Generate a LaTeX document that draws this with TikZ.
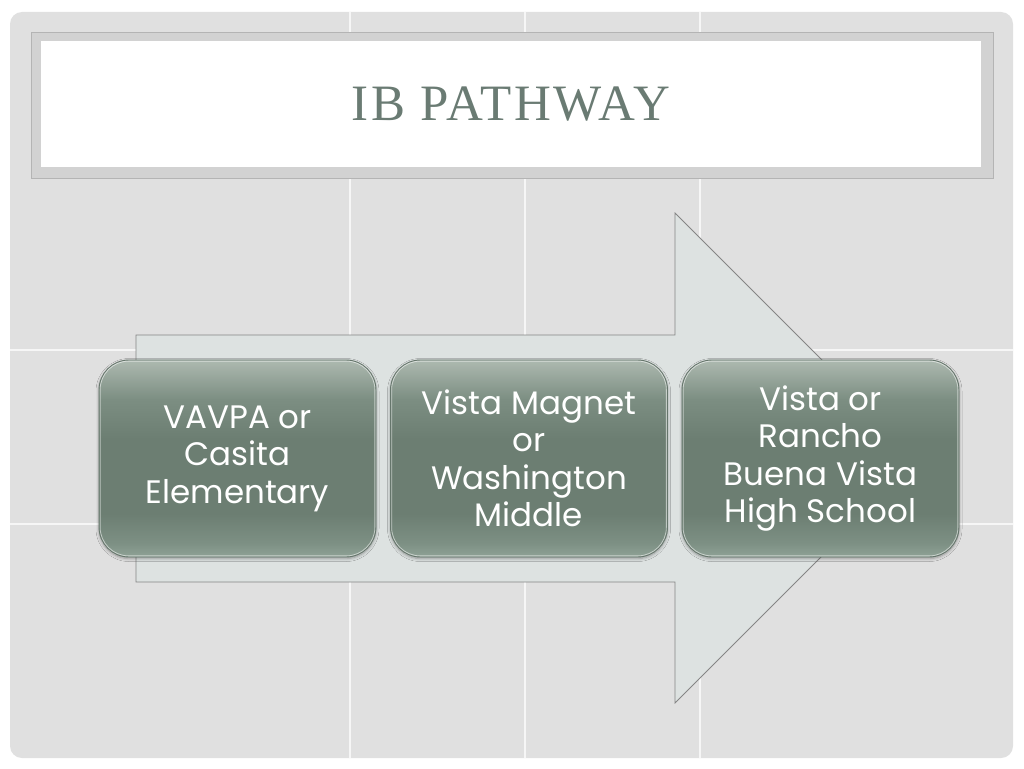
\documentclass[tikz,border=0pt]{standalone}
\usepackage{fontspec}
\setmainfont{Liberation Serif}
\newfontfamily\boxfont{Poppins}
\newfontfamily\titlefont[LetterSpace=5]{Liberation Serif}
\usetikzlibrary{shadows.blur}
\definecolor{bg}{HTML}{E0E0E0}
\definecolor{gridline}{HTML}{F6F6F6}
\definecolor{titleframe}{HTML}{D2D2D2}
\definecolor{titleedge}{HTML}{B4B4B4}
\definecolor{titletext}{HTML}{6A7B73}
\definecolor{arrowfill}{HTML}{DDE2E1}
\definecolor{arrowedge}{HTML}{858585}
\definecolor{boxline}{HTML}{66766C}
\definecolor{sbA}{HTML}{8FA296}
\definecolor{sbB}{HTML}{7D9084}
\definecolor{sbC}{HTML}{6C7E72}
\definecolor{sbD}{HTML}{7C8E82}
\definecolor{sbE}{HTML}{ADB9B0}
\pgfdeclareverticalshading{boxshade}{100bp}{color(0bp)=(sbA); color(25bp)=(sbA); color(28.5bp)=(sbB); color(36bp)=(sbC); color(55bp)=(sbC); color(65bp)=(sbD); color(75bp)=(sbE); color(100bp)=(sbE)}
\tikzset{
  stepbox/.style={shape=rectangle, rounded corners=30pt, minimum width=277pt,
    minimum height=197pt, inner sep=0pt, shading=boxshade, draw=boxline,
    line width=0.9pt, text=white, align=center,
    font=\boxfont\fontsize{32.5}{37.5}\selectfont,
    blur shadow={shadow xshift=0pt, shadow yshift=-1.5pt, shadow blur radius=3pt, shadow blur steps=6, shadow opacity=35}},
  gloss/.style={draw=white, opacity=0.55, line width=0.8pt, rounded corners=28.5pt},
  grid line/.style={draw=gridline, line width=1.3pt}
}
\begin{document}
\begin{tikzpicture}[x=1pt,y=-1pt]
\useasboundingbox (0,0) rectangle (1024,768);
\fill[white] (0,0) rectangle (1024,768);
% slide background
\fill[bg, rounded corners=12pt] (10,12) rectangle (1013,758);
\begin{scope}
  \clip[rounded corners=12pt] (10,12) rectangle (1013,758);
  \foreach \gx in {350,525,700} \draw[grid line] (\gx,12) -- (\gx,758);
  \foreach \gy in {350,524} \draw[grid line] (10,\gy) -- (1013,\gy);
\end{scope}
% title frame
\fill[titleframe, draw=titleedge, line width=0.8pt] (31,32) rectangle (993,178);
\fill[white] (41,41) rectangle (981,167);
\node[anchor=base, text=titletext, font=\titlefont\fontsize{51}{60}\selectfont, inner sep=0pt] (title) at (511,120) {IB PATHWAY};
% big arrow
\coordinate (a1) at (136,335);
\coordinate (a2) at (675,335);
\coordinate (a3) at (675,213);
\coordinate (tip) at (920,458);
\coordinate (a5) at (675,703);
\coordinate (a6) at (675,582);
\coordinate (a7) at (136,582);
\filldraw[fill=arrowfill, draw=arrowedge, line width=0.8pt, line join=miter]
  (a1) -- (a2) -- (a3) -- (tip) -- (a5) -- (a6) -- (a7) -- cycle;
% boxes
\node[stepbox] (b1) at (237.5,458.5) {VAVPA or\\Casita\\Elementary};
\node[stepbox] (b2) at (529,458.5) {Vista Magnet\\or\\Washington\\Middle};
\node[stepbox] (b3) at (820.5,458.5) {Vista or\\Rancho\\Buena Vista\\High School};
\foreach \b in {b1,b2,b3}
  \draw[gloss] ([shift={(1.6,1.6)}]\b.north west) rectangle ([shift={(-1.6,-1.6)}]\b.south east);
\end{tikzpicture}
\end{document}
